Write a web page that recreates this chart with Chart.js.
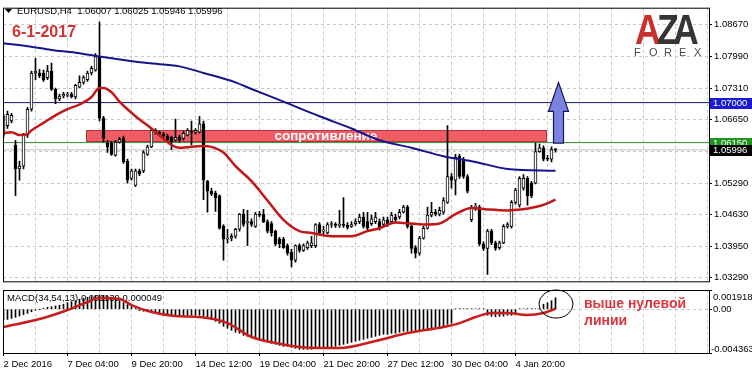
<!DOCTYPE html>
<html>
<head>
<meta charset="utf-8">
<script src="https://cdn.jsdelivr.net/npm/chart.js@4.4.0/dist/chart.umd.min.js"></script>
<style>
  html, body { margin: 0; padding: 0; background: #fff; }
  #wrap { position: relative; width: 752px; height: 375px; overflow: hidden; background: #fff; }
  #main { position: absolute; left: 0; top: 0; width: 752px; height: 289px; }
  #macd { position: absolute; left: 0; top: 289px; width: 752px; height: 86px; }
</style>
</head>
<body>
<div id="wrap">
  <div id="main"><canvas id="priceChart"></canvas></div>
  <div id="macd"><canvas id="macdChart"></canvas></div>
</div>
<script>
// EURUSD H4 candles, bar index 0 = 2 Dec 2016 12:00
const openP = [1.0631,1.0651,1.0661,1.0610,1.0559,1.0565,1.0631,1.0686,1.0763,1.0763,
  1.0763,1.0753,1.0767,1.0728,1.0708,1.0714,1.0716,1.0718,1.0712,1.0733,
  1.0743,1.0749,1.0763,1.0769,1.0798,1.0667,1.0614,1.0614,1.0588,1.0616,
  1.0624,1.0576,1.0539,1.0524,1.0555,1.0555,1.0590,1.0606,1.0641,1.0637,
  1.0633,1.0629,1.0626,1.0620,1.0626,1.0624,1.0631,1.0639,1.0637,1.0637,
  1.0655,1.0533,1.0512,1.0508,1.0502,1.0437,1.0410,1.0412,1.0416,1.0431,
  1.0463,1.0445,1.0447,1.0437,1.0463,1.0463,1.0447,1.0443,1.0427,1.0410,
  1.0410,1.0396,1.0382,1.0365,1.0396,1.0386,1.0392,1.0396,1.0396,1.0441,
  1.0427,1.0423,1.0441,1.0441,1.0439,1.0441,1.0439,1.0437,1.0443,1.0447,
  1.0457,1.0447,1.0443,1.0447,1.0447,1.0441,1.0451,1.0447,1.0457,1.0457,
  1.0467,1.0478,1.0437,1.0392,1.0380,1.0412,1.0433,1.0461,1.0467,1.0463,
  1.0467,1.0488,1.0543,1.0535,1.0586,1.0576,1.0543,1.0451,1.0478,1.0478,
  1.0400,1.0390,1.0427,1.0402,1.0392,1.0402,1.0437,1.0437,1.0488,1.0482,
  1.0518,1.0539,1.0529,1.0529,1.0596,1.0604,1.0582,1.0580,1.06007];
const highP = [1.0675,1.0682,1.0677,1.0620,1.0576,1.0635,1.0690,1.0767,1.0794,1.0771,
  1.0769,1.0779,1.0784,1.0731,1.0718,1.0722,1.0722,1.0722,1.0739,1.0757,
  1.0757,1.0767,1.0777,1.0804,1.0871,1.0671,1.0620,1.0618,1.0620,1.0626,
  1.0629,1.0580,1.0559,1.0559,1.0559,1.0598,1.0610,1.0645,1.0645,1.0639,
  1.0637,1.0633,1.0629,1.0665,1.0631,1.0639,1.0645,1.0661,1.0645,1.0671,
  1.0661,1.0535,1.0518,1.0512,1.0504,1.0441,1.0431,1.0421,1.0433,1.0465,
  1.0473,1.0471,1.0453,1.0467,1.0469,1.0473,1.0451,1.0447,1.0429,1.0414,
  1.0414,1.0400,1.0388,1.0398,1.0400,1.0400,1.0406,1.0416,1.0443,1.0445,
  1.0437,1.0445,1.0447,1.0445,1.0471,1.0498,1.0445,1.0447,1.0453,1.0463,
  1.0467,1.0467,1.0461,1.0467,1.0453,1.0457,1.0457,1.0467,1.0463,1.0473,
  1.0482,1.0482,1.0441,1.0396,1.0416,1.0437,1.0478,1.0488,1.0473,1.0478,
  1.0498,1.0651,1.0549,1.0590,1.0590,1.0584,1.0547,1.0482,1.0486,1.0482,
  1.0404,1.0431,1.0431,1.0406,1.0406,1.0441,1.0445,1.0492,1.0518,1.0543,
  1.0547,1.0543,1.0533,1.0614,1.0612,1.0608,1.0588,1.0606,1.06025];
const lowP = [1.0626,1.0645,1.0657,1.0502,1.0535,1.0559,1.0626,1.0682,1.0749,1.0753,
  1.0745,1.0749,1.0726,1.0698,1.0704,1.0710,1.0712,1.0710,1.0708,1.0731,
  1.0739,1.0745,1.0759,1.0767,1.0661,1.0616,1.0594,1.0588,1.0586,1.0614,
  1.0571,1.0529,1.0535,1.0522,1.0545,1.0551,1.0588,1.0604,1.0633,1.0629,
  1.0624,1.0618,1.0600,1.0618,1.0616,1.0620,1.0629,1.0610,1.0633,1.0635,
  1.0494,1.0467,1.0502,1.0469,1.0431,1.0365,1.0402,1.0406,1.0412,1.0427,
  1.0437,1.0396,1.0437,1.0435,1.0457,1.0445,1.0423,1.0416,1.0396,1.0392,
  1.0390,1.0376,1.0351,1.0361,1.0382,1.0384,1.0388,1.0392,1.0392,1.0418,
  1.0421,1.0421,1.0435,1.0435,1.0435,1.0435,1.0431,1.0435,1.0439,1.0443,
  1.0433,1.0429,1.0439,1.0443,1.0429,1.0437,1.0437,1.0443,1.0447,1.0453,
  1.0465,1.0433,1.0380,1.0370,1.0376,1.0410,1.0431,1.0457,1.0459,1.0459,
  1.0463,1.0486,1.0518,1.0504,1.0539,1.0539,1.0508,1.0447,1.0471,1.0396,
  1.0386,1.0335,1.0398,1.0386,1.0388,1.0400,1.0433,1.0433,1.0484,1.0478,
  1.0514,1.0482,1.0498,1.0527,1.0594,1.0576,1.0576,1.0574,1.05946];
const closeP = [1.0671,1.0675,1.0673,1.0559,1.0565,1.0631,1.0686,1.0763,1.0767,1.0757,
  1.0749,1.0767,1.0728,1.0708,1.0714,1.0718,1.0718,1.0712,1.0737,1.0743,
  1.0753,1.0763,1.0773,1.0798,1.0667,1.0624,1.0606,1.0590,1.0616,1.0622,
  1.0574,1.0535,1.0555,1.0555,1.0549,1.0594,1.0606,1.0641,1.0637,1.0633,
  1.0629,1.0620,1.0616,1.0626,1.0620,1.0635,1.0641,1.0637,1.0641,1.0655,
  1.0535,1.0512,1.0506,1.0498,1.0433,1.0410,1.0412,1.0416,1.0431,1.0463,
  1.0441,1.0447,1.0441,1.0463,1.0461,1.0447,1.0427,1.0423,1.0400,1.0400,
  1.0392,1.0380,1.0365,1.0396,1.0386,1.0396,1.0402,1.0402,1.0441,1.0423,
  1.0429,1.0441,1.0443,1.0439,1.0441,1.0439,1.0435,1.0441,1.0447,1.0457,
  1.0437,1.0433,1.0453,1.0457,1.0433,1.0451,1.0441,1.0461,1.0451,1.0467,
  1.0478,1.0437,1.0390,1.0380,1.0412,1.0433,1.0461,1.0467,1.0463,1.0471,
  1.0492,1.0543,1.0535,1.0584,1.0543,1.0543,1.0512,1.0478,1.0480,1.0400,
  1.0390,1.0427,1.0402,1.0390,1.0402,1.0437,1.0441,1.0488,1.0514,1.0539,
  1.0539,1.0502,1.0502,1.0596,1.0604,1.0580,1.0580,1.0600,1.05996];

// moving averages (bar index, price)
const maSlowIdx = [0, 6, 12, 18, 24, 36, 44, 50, 58, 62, 70, 79, 87, 94, 102, 110, 118, 126, 138];
const maSlowVal = [1.0826,1.0820,1.0812,1.0806,1.0798,1.0784,1.0777,1.0763,1.0743,1.0729,
  1.0702,1.0671,1.0645,1.0620,1.0604,1.0586,1.0574,1.0559,1.0555];
const maFastIdx = [0, 2, 4, 6, 7, 10, 13, 16, 19, 22, 24, 25, 27, 29, 33, 37, 42, 44, 50, 52,
  55, 58, 62, 66, 70, 74, 77, 82, 87, 91, 94, 98, 102, 106, 109, 113, 117, 121, 126, 133, 136, 138];
const maFastVal = [1.0635,1.0637,1.0631,1.0633,1.0641,1.0657,1.0673,1.0686,1.0696,1.0712,
  1.0731,1.0731,1.0722,1.0702,1.0671,1.0645,1.0610,1.0604,1.0608,1.0606,
  1.0594,1.0565,1.0533,1.0492,1.0451,1.0427,1.0423,1.0416,1.0416,1.0427,
  1.0433,1.0445,1.0443,1.0441,1.0443,1.0463,1.0476,1.0473,1.0471,1.0478,1.0486,1.0494];

// MACD(34,54,13)
const macdHist = [-0.00107,-0.00101,-0.00091,-0.00081,-0.00068,-0.00055,-0.00041,-0.00025,-0.0001,-0.00003,
  0.0001,0.0002,0.00025,0.00033,0.0004,0.0005,0.00065,0.00075,0.00085,0.001,
  0.0011,0.0012,0.00126,0.00136,0.00142,0.00139,0.00133,0.0012,0.00106,0.00086,
  0.00066,0.00046,0.00027,0.00007,-0.00013,-0.0002,-0.00025,-0.0003,-0.00033,-0.0005,
  -0.00055,-0.0006,-0.0006,-0.00062,-0.0006,-0.0006,-0.0006,-0.0006,-0.0006,-0.0006,
  -0.0007,-0.0009,-0.001,-0.0012,-0.0014,-0.0017,-0.0019,-0.0021,-0.0023,-0.0024,
  -0.0026,-0.0027,-0.0028,-0.0029,-0.0031,-0.0032,-0.0033,-0.0034,-0.0035,-0.0036,
  -0.0037,-0.0037,-0.0038,-0.0039,-0.004,-0.004,-0.004,-0.004,-0.0039,-0.0039,
  -0.0039,-0.0038,-0.0038,-0.0037,-0.0036,-0.0035,-0.0034,-0.0033,-0.0032,-0.0031,
  -0.003,-0.0029,-0.0028,-0.0027,-0.0026,-0.0025,-0.0025,-0.0024,-0.0024,-0.0023,
  -0.0022,-0.0022,-0.0022,-0.0022,-0.0021,-0.0021,-0.002,-0.0019,-0.0018,-0.0018,
  -0.0017,-0.0015,-0.0014,0.00005,0.00005,0.00005,0.00005,0.00005,0.00005,0.00005,
  0.00005,-0.0006,-0.0007,-0.00075,-0.0007,-0.0007,-0.0006,-0.0006,-0.0005,0.00005,
  0.00005,0.00005,0.00005,0.00005,0.00005,0.0005,0.00065,0.00085,0.001139];
const signalIdx = [0, 10, 16, 21, 24, 29, 32, 37, 43, 49, 56, 62, 68, 74, 79, 84, 93, 101, 110, 114, 118, 122, 126, 131, 135, 138];
const signalVal = [-0.00177,-0.00088,-0.00008,0.00072,0.00112,0.00102,0.00042,-0.00028,-0.00068,-0.00078,
  -0.00138,-0.00277,-0.00337,-0.00377,-0.00387,-0.00387,-0.00317,-0.00237,-0.00177,-0.00138,
  -0.00078,-0.00038,-0.00038,-0.00058,-0.00038,0.000049];

const timeLabels = ['2 Dec 2016', '7 Dec 04:00', '9 Dec 20:00', '14 Dec 12:00', '19 Dec 04:00',
  '21 Dec 20:00', '27 Dec 12:00', '30 Dec 04:00', '4 Jan 20:00'];
const priceTicks = [1.0867, 1.0799, 1.0731, 1.0665, 1.0597, 1.0529, 1.0463, 1.0395, 1.0329];
const macdTicks = [0.001918, 0, -0.004363];

const levelTarget = 1.07, levelSupport = 1.0615, bidPrice = 1.05996;
const zoneFrom = 20.6, zoneTo = 135.6, zoneHigh = 1.06426, zoneLow = 1.06182;
const zoneLabelAt = 80.6, zoneLabel = 'сопротивление';
const arrowAt = 138.6, arrowTip = 1.07426, arrowNeck = 1.06814, arrowBase = 1.0614;

const headerText = 'EURUSD,H4  1.06007 1.06025 1.05946 1.05996';
const macdTitle = 'MACD(34,54,13) 0.001139 0.000049';

const FONT = '"Liberation Sans", Arial, Helvetica, sans-serif';
const X_MIN = -0.125, X_MAX = 176.375;
const gridSteps = [];
for (let v = 0; v <= 176; v += 8) gridSteps.push(v);

const wickData = lowP.map((l, i) => ({x: i, y: [l, highP[i]]}));
const bodyData = openP.map((o, i) => ({x: i, y: [o, closeP[i]]}));
const bodyFill = openP.map((o, i) => closeP[i] >= o ? '#ffffff' : '#000000');
const toPoints = (idx, val) => idx.map((x, k) => ({x: x, y: val[k]}));
const flat = v => [{x: X_MIN, y: v}, {x: X_MAX, y: v}];

const mainDecor = {
  id: 'mainDecor',
  beforeDatasetsDraw(chart) {
    const {ctx, scales: {x, y}} = chart;
    const x1 = Math.round(x.getPixelForValue(zoneFrom)), x2 = Math.round(x.getPixelForValue(zoneTo));
    const y1 = Math.round(y.getPixelForValue(zoneHigh)), y2 = Math.round(y.getPixelForValue(zoneLow));
    ctx.save();
    ctx.fillStyle = '#f25c64';
    ctx.fillRect(x1, y1, x2 - x1, y2 - y1);
    ctx.strokeStyle = '#b3343a';
    ctx.lineWidth = 1;
    ctx.strokeRect(x1 + 0.5, y1 + 0.5, x2 - x1, y2 - y1);
    ctx.fillStyle = '#ffffff';
    ctx.font = 'bold 13.5px ' + FONT;
    ctx.textAlign = 'center';
    ctx.textBaseline = 'middle';
    ctx.fillText(zoneLabel, x.getPixelForValue(zoneLabelAt), (y1 + y2) / 2 + 1);
    ctx.restore();
  },
  afterDatasetsDraw(chart) {
    const {ctx, scales: {x, y}} = chart;
    const cx = Math.round(x.getPixelForValue(arrowAt)) + 0.5;
    const yt = y.getPixelForValue(arrowTip), yn = y.getPixelForValue(arrowNeck), yb = y.getPixelForValue(arrowBase);
    ctx.save();
    ctx.beginPath();
    ctx.moveTo(cx, yt);
    ctx.lineTo(cx + 10, yn);
    ctx.lineTo(cx + 5, yn);
    ctx.lineTo(cx + 5, yb);
    ctx.lineTo(cx - 5, yb);
    ctx.lineTo(cx - 5, yn);
    ctx.lineTo(cx - 10, yn);
    ctx.closePath();
    ctx.fillStyle = '#7a84e0';
    ctx.fill();
    ctx.strokeStyle = '#15155a';
    ctx.lineWidth = 1.2;
    ctx.stroke();
    ctx.restore();
  },
  afterDraw(chart) {
    const {ctx, chartArea: a, scales: {y}} = chart;
    ctx.save();
    ctx.strokeStyle = '#000';
    ctx.lineWidth = 1;
    ctx.strokeRect(a.left + 0.5, a.top + 0.5, a.right - a.left, a.bottom - a.top);

    // header
    ctx.fillStyle = '#000';
    ctx.beginPath();
    ctx.moveTo(5, 9); ctx.lineTo(12, 9); ctx.lineTo(8.5, 13); ctx.closePath();
    ctx.fill();
    ctx.font = '9.5px ' + FONT;
    ctx.textBaseline = 'alphabetic';
    ctx.fillText(headerText, 17, 14);

    ctx.fillStyle = '#d23434';
    ctx.font = 'bold 16px ' + FONT;
    ctx.fillText('6-1-2017', 12, 37);

    // logo
    const letters = [['A', 635, '#c8302c'], ['Z', 657, '#353535'], ['A', 673, '#353535']];
    ctx.font = 'bold 42px ' + FONT;
    letters.forEach(([ch, lx, col]) => {
      ctx.save();
      ctx.translate(lx, 44);
      ctx.scale(0.85, 1);
      ctx.fillStyle = col;
      ctx.fillText(ch, 0, 0);
      ctx.restore();
    });
    ctx.font = '11px ' + FONT;
    ctx.fillStyle = '#4a4a4a';
    ['F', 'O', 'R', 'E', 'X'].forEach((ch, k) => ctx.fillText(ch, 634 + k * 15, 56));

    // price tags
    const tag = (v, bg) => {
      const py = Math.round(y.getPixelForValue(v));
      ctx.fillStyle = bg;
      ctx.fillRect(a.right + 1, py - 5, 752 - a.right - 1, 11);
      ctx.fillStyle = '#fff';
      ctx.font = '9.5px ' + FONT;
      ctx.textBaseline = 'middle';
      ctx.fillText(v.toFixed(5), a.right + 4, py + 0.5);
    };
    tag(levelTarget, '#1a1ad0');
    tag(levelSupport, '#1e961e');
    tag(bidPrice, '#000000');
    ctx.restore();
  }
};

new Chart(document.getElementById('priceChart'), {
  type: 'bar',
  data: {
    datasets: [
      {type: 'line', data: flat(levelTarget), borderColor: '#14146e', borderWidth: 1, pointRadius: 0, order: 6},
      {type: 'line', data: flat(levelSupport), borderColor: '#2e8b2e', borderWidth: 1, pointRadius: 0, order: 6},
      {type: 'line', data: flat(bidPrice), borderColor: '#c0c0c0', borderWidth: 1, pointRadius: 0, order: 6},
      {type: 'bar', data: wickData, backgroundColor: '#000', barThickness: 1, grouped: false, order: 4},
      {type: 'bar', data: bodyData, backgroundColor: bodyFill, borderColor: '#000', borderWidth: 1,
        borderSkipped: false, barThickness: 3, minBarLength: 1, grouped: false, order: 3},
      {type: 'line', data: toPoints(maSlowIdx, maSlowVal), borderColor: '#14148c', borderWidth: 2,
        pointRadius: 0, cubicInterpolationMode: 'monotone', order: 2},
      {type: 'line', data: toPoints(maFastIdx, maFastVal), borderColor: '#c01818', borderWidth: 2.5,
        pointRadius: 0, cubicInterpolationMode: 'monotone', order: 1}
    ]
  },
  options: {
    responsive: true,
    maintainAspectRatio: false,
    devicePixelRatio: 1,
    animation: false,
    events: [],
    layout: {padding: {left: 3, top: 2, right: 0, bottom: 2}},
    plugins: {legend: {display: false}, tooltip: {enabled: false}},
    scales: {
      x: {
        type: 'linear', min: X_MIN, max: X_MAX, offset: false,
        afterBuildTicks: s => { s.ticks = gridSteps.map(v => ({value: v})); },
        afterFit: s => { s.height = 0; },
        ticks: {display: false},
        grid: {color: '#c8c8c8', drawTicks: false, offset: false},
        border: {display: false, dash: [3, 3]}
      },
      y: {
        type: 'linear', position: 'right', min: 1.03203, max: 1.09017,
        afterBuildTicks: s => { s.ticks = priceTicks.map(v => ({value: v})); },
        afterFit: s => { s.width = 43; },
        ticks: {color: '#000', font: {family: FONT, size: 9.5}, padding: 2, callback: v => v.toFixed(5)},
        grid: {color: '#c8c8c8', tickColor: '#000', tickLength: 3},
        border: {display: false, dash: [3, 3]}
      }
    }
  },
  plugins: [mainDecor]
});

const macdDecor = {
  id: 'macdDecor',
  beforeDatasetsDraw(chart) {
    const {ctx, chartArea: a} = chart;
    ctx.save();
    ctx.fillStyle = '#000';
    ctx.font = '9.5px ' + FONT;
    ctx.textBaseline = 'middle';
    ctx.fillText(macdTitle, 7, a.top + 8);
    ctx.restore();
  },
  afterDraw(chart) {
    const {ctx, chartArea: a, scales: {y}} = chart;
    ctx.save();
    ctx.strokeStyle = '#000';
    ctx.lineWidth = 1;
    ctx.strokeRect(a.left + 0.5, a.top + 0.5, a.right - a.left, a.bottom - a.top);

    ctx.fillStyle = '#000';
    ctx.font = '9.5px ' + FONT;
    ctx.textBaseline = 'middle';
    ctx.fillText(macdTicks[0].toFixed(6), a.right + 4, y.getPixelForValue(macdTicks[0]) + 7);
    ctx.fillText('0.00', a.right + 4, y.getPixelForValue(macdTicks[1]));
    ctx.fillText(macdTicks[2].toFixed(6), a.right + 2, y.getPixelForValue(macdTicks[2]) - 4);

    ctx.fillStyle = '#d9363e';
    ctx.font = 'bold 14px ' + FONT;
    ctx.textBaseline = 'alphabetic';
    ctx.fillText('выше нулевой', 584, 19);
    ctx.fillText('линии', 584, 36);

    ctx.strokeStyle = '#000';
    ctx.beginPath();
    ctx.ellipse(556, 15, 17, 14, 0, 0, Math.PI * 2);
    ctx.stroke();
    ctx.restore();
  }
};

new Chart(document.getElementById('macdChart'), {
  type: 'bar',
  data: {
    datasets: [
      {type: 'bar', data: macdHist.map((v, i) => ({x: i, y: v})), backgroundColor: '#000',
        barThickness: 1, grouped: false, order: 2},
      {type: 'line', data: toPoints(signalIdx, signalVal), borderColor: '#c81e1e', borderWidth: 2.5,
        pointRadius: 0, cubicInterpolationMode: 'monotone', order: 1}
    ]
  },
  options: {
    responsive: true,
    maintainAspectRatio: false,
    devicePixelRatio: 1,
    animation: false,
    events: [],
    layout: {padding: {left: 3, top: 1, right: 0, bottom: 0}},
    plugins: {legend: {display: false}, tooltip: {enabled: false}},
    scales: {
      x: {
        type: 'linear', min: X_MIN, max: X_MAX, offset: false,
        afterBuildTicks: s => { s.ticks = gridSteps.map(v => ({value: v})); },
        afterFit: s => { s.height = 22; },
        ticks: {
          color: '#000', font: {family: FONT, size: 9.5}, padding: 3, align: 'start',
          autoSkip: false, maxRotation: 0,
          callback: v => (v % 16 === 0 && timeLabels[v / 16]) ? timeLabels[v / 16] : ''
        },
        grid: {
          color: '#c8c8c8', offset: false, tickLength: 3,
          tickColor: c => (c.tick && c.tick.value % 16 === 0 && timeLabels[c.tick.value / 16]) ? '#000' : 'rgba(0,0,0,0)'
        },
        border: {display: false, dash: [3, 3]}
      },
      y: {
        type: 'linear', position: 'right', min: macdTicks[2], max: macdTicks[0],
        afterBuildTicks: s => { s.ticks = macdTicks.map(v => ({value: v})); },
        afterFit: s => { s.width = 43; },
        ticks: {display: false},
        grid: {color: '#c8c8c8', tickColor: '#000', tickLength: 3},
        border: {display: false, dash: [3, 3]}
      }
    }
  },
  plugins: [macdDecor]
});
</script>
</body>
</html>
